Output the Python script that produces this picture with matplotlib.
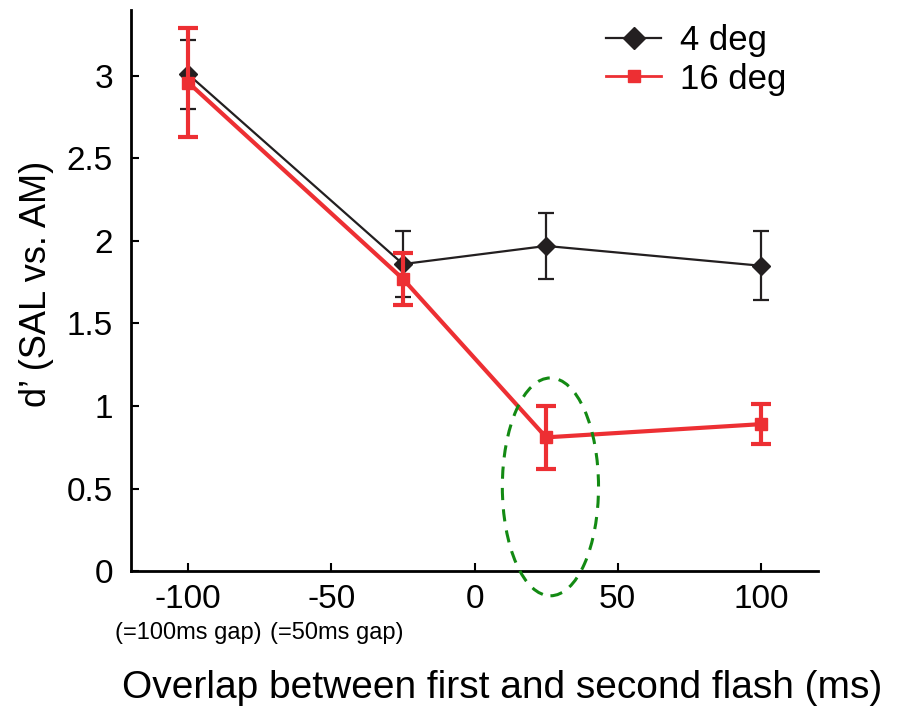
import numpy as np
import matplotlib
matplotlib.use("Agg")
import matplotlib.pyplot as plt
from matplotlib.patches import Ellipse
from matplotlib.lines import Line2D

plt.rcParams['font.family'] = ['Liberation Sans', 'DejaVu Sans']

# Datos
overlap = [-100, -25, 25, 100]
d_4deg = [3.01, 1.86, 1.97, 1.85]
err_4deg = [0.21, 0.20, 0.20, 0.21]
d_16deg = [2.96, 1.77, 0.81, 0.89]
err_16deg = [0.33, 0.16, 0.19, 0.12]

xticks = [-100, -50, 0, 50, 100]
xtick_labels = ["-100", "-50", "0", "50", "100"]
yticks = [0, 0.5, 1, 1.5, 2, 2.5, 3]
ytick_labels = ["0", "0.5", "1", "1.5", "2", "2.5", "3"]
gap_notes = [(-100, "(=100ms gap)"), (-48, "(=50ms gap)")]

black = "#231f20"
red = "#ed2f33"

fig = plt.figure(figsize=(9.06, 7.12), dpi=100)
ax = fig.add_axes([0.1446, 0.198, 0.7584, 0.788])

ax.errorbar(overlap, d_4deg, yerr=err_4deg, color=black, marker="D",
            markersize=9, linewidth=1.6, elinewidth=1.6, capsize=6,
            capthick=1.6, zorder=3)
ax.errorbar(overlap, d_16deg, yerr=err_16deg, color=red, marker="s",
            markersize=9, linewidth=3, elinewidth=3, capsize=7,
            capthick=3, zorder=4)

# Elipse verde punteada
ell = Ellipse((26.5, 0.51), 33.6, 1.32, fill=False, edgecolor="#138a13",
              linestyle=(0, (4, 3)), linewidth=2.2, zorder=5, clip_on=False)
ax.add_patch(ell)

ax.set_xlim(-120, 120)
ax.set_ylim(0, 3.4)
ax.set_xticks(xticks)
ax.set_xticklabels(xtick_labels)
ax.set_yticks(yticks)
ax.set_yticklabels(ytick_labels)
ax.tick_params(direction="in", length=6, width=1.5, labelsize=24)
ax.tick_params(axis="y", pad=13)
ax.tick_params(axis="x", pad=9)

for s in ["top", "right"]:
    ax.spines[s].set_visible(False)
for s in ["left", "bottom"]:
    ax.spines[s].set_linewidth(2)

ax.set_ylabel("d\u2019 (SAL vs. AM)", fontsize=26, va="center")
ax.yaxis.set_label_coords(-0.137, 0.512)
ax.set_xlabel("Overlap between first and second flash (ms)", fontsize=28, va="center")
ax.xaxis.set_label_coords(0.54, -0.2086)

for xv, txt in gap_notes:
    ax.text(xv, -0.375, txt, ha="center", va="center", fontsize=17)

handles = [
    Line2D([], [], color=black, marker="D", markersize=11, linewidth=1.6),
    Line2D([], [], color=red, marker="s", markersize=9, linewidth=2),
]
ax.legend(handles, ["4 deg", "16 deg"], loc="upper right",
          bbox_to_anchor=(1.0, 1.03), frameon=False, fontsize=25,
          handlelength=1.6, handletextpad=0.55, labelspacing=0.15)

fig.savefig("out.png", dpi=100)
